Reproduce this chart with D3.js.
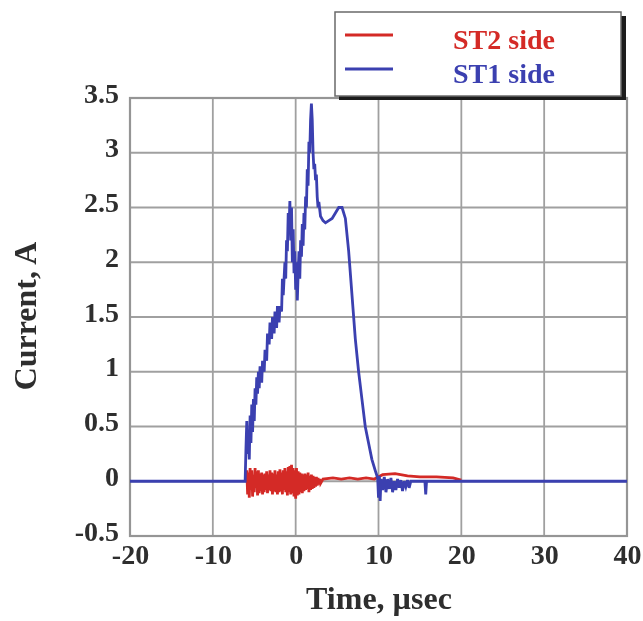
<html>
<head>
  <script src="https://d3js.org/d3.v7.min.js"></script>
  <style>
    body { margin: 0; background: white; }
    text { font-family: "Liberation Serif", "Times New Roman", serif; font-weight: bold; }
  </style>
</head>
<body>
  <svg id="chart" width="643" height="621"></svg>
  <script>
    // time ticks (usec) and current ticks (A)
    const xTicks = [-20, -10, 0, 10, 20, 30, 40];
    const yTicks = [-0.5, 0, 0.5, 1, 1.5, 2, 2.5, 3, 3.5];

    // ST1 side (blue) [time, current]
    const st1 = [
      [-20, 0], [-6.1, 0], [-6.0, 0.3], [-5.9, 0.55], [-5.8, 0.25], [-5.7, 0.45], [-5.6, 0.2],
      [-5.5, 0.6], [-5.4, 0.35], [-5.3, 0.7], [-5.2, 0.45], [-5.1, 0.75], [-5.0, 0.55],
      [-4.9, 0.85], [-4.8, 0.7], [-4.7, 0.95], [-4.6, 0.8], [-4.5, 1.0], [-4.4, 0.85],
      [-4.3, 1.05], [-4.1, 0.9], [-4.0, 1.1], [-3.8, 1.0], [-3.7, 1.2], [-3.5, 1.1],
      [-3.4, 1.35], [-3.2, 1.25], [-3.1, 1.45], [-2.9, 1.3], [-2.8, 1.5], [-2.6, 1.35],
      [-2.5, 1.55], [-2.3, 1.4], [-2.2, 1.6], [-2.0, 1.45], [-1.9, 1.6], [-1.7, 1.55],
      [-1.6, 1.85], [-1.5, 1.7], [-1.3, 2.0], [-1.2, 1.85], [-1.1, 2.2], [-1.0, 2.1],
      [-0.9, 2.45], [-0.8, 2.3], [-0.7, 2.56], [-0.6, 2.2], [-0.5, 2.5], [-0.4, 2.0],
      [-0.3, 2.3], [-0.2, 1.9], [-0.1, 2.1], [0.0, 1.75], [0.1, 2.0], [0.2, 1.65],
      [0.3, 1.9], [0.4, 2.1], [0.5, 1.85], [0.6, 2.2], [0.7, 2.05], [0.8, 2.35],
      [0.9, 2.15], [1.0, 2.45], [1.1, 2.3], [1.2, 2.6], [1.3, 2.5], [1.4, 2.85],
      [1.5, 2.7], [1.6, 3.1], [1.7, 3.0], [1.8, 3.3], [1.9, 3.45], [2.0, 3.3], [2.1, 3.0],
      [2.2, 2.85], [2.3, 2.9], [2.4, 2.75], [2.5, 2.8], [2.6, 2.6], [2.7, 2.5], [2.8, 2.55],
      [3.0, 2.42], [3.3, 2.38], [3.6, 2.36], [4.0, 2.38], [4.4, 2.4], [4.8, 2.45],
      [5.2, 2.5], [5.6, 2.5], [6.0, 2.4], [6.4, 2.1], [6.8, 1.7], [7.2, 1.3], [7.6, 1.0],
      [8.0, 0.75], [8.4, 0.5], [8.8, 0.35], [9.2, 0.2], [9.6, 0.1], [9.9, 0.03],
      [10.0, -0.15], [10.1, 0.05], [10.2, -0.18], [10.3, 0.02], [10.5, -0.08], [10.7, 0.04],
      [10.9, -0.1], [11.1, 0.02], [11.3, -0.07], [11.5, 0.03], [11.7, -0.1], [11.9, 0.0],
      [12.1, -0.08], [12.3, 0.02], [12.5, -0.06], [12.7, 0.01], [12.9, -0.09], [13.1, 0.0],
      [13.3, -0.05], [13.5, 0.01], [13.7, -0.06], [13.9, 0.0], [15.6, 0.0], [15.7, -0.12],
      [15.8, 0.0], [40, 0]
    ];

    // ST2 side (red) [time, current]
    const st2 = [
      [-6.0, 0], [-5.9, 0.1], [-5.8, -0.12], [-5.7, 0.08], [-5.6, -0.15], [-5.5, 0.12],
      [-5.4, -0.08], [-5.3, 0.1], [-5.2, -0.14], [-5.1, 0.06], [-5.0, -0.1], [-4.9, 0.12],
      [-4.8, -0.06], [-4.7, 0.09], [-4.6, -0.13], [-4.5, 0.1], [-4.4, -0.11], [-4.3, 0.07],
      [-4.2, -0.09], [-4.1, 0.08], [-4.0, -0.12], [-3.9, 0.06], [-3.8, -0.1], [-3.7, 0.07],
      [-3.6, -0.08], [-3.5, 0.09], [-3.4, -0.11], [-3.3, 0.06], [-3.2, -0.08], [-3.1, 0.1],
      [-3.0, -0.09], [-2.9, 0.08], [-2.8, -0.12], [-2.7, 0.07], [-2.6, -0.09], [-2.5, 0.1],
      [-2.4, -0.1], [-2.3, 0.06], [-2.2, -0.12], [-2.1, 0.09], [-2.0, -0.1], [-1.9, 0.11],
      [-1.8, -0.09], [-1.7, 0.08], [-1.6, -0.12], [-1.5, 0.1], [-1.4, -0.08], [-1.3, 0.12],
      [-1.2, -0.1], [-1.1, 0.09], [-1.0, -0.13], [-0.9, 0.13], [-0.8, -0.1], [-0.7, 0.14],
      [-0.6, -0.12], [-0.5, 0.15], [-0.4, -0.11], [-0.3, 0.12], [-0.2, -0.14], [-0.1, 0.1],
      [0.0, -0.16], [0.1, 0.12], [0.2, -0.13], [0.3, 0.09], [0.4, -0.12], [0.5, 0.08],
      [0.6, -0.1], [0.7, 0.07], [0.8, -0.11], [0.9, 0.06], [1.0, -0.09], [1.1, 0.07],
      [1.2, -0.08], [1.3, 0.06], [1.4, -0.07], [1.5, 0.08], [1.6, -0.1], [1.7, 0.05],
      [1.8, -0.08], [1.9, 0.06], [2.0, -0.07], [2.1, 0.05], [2.2, -0.06], [2.3, 0.04],
      [2.4, -0.05], [2.5, 0.04], [2.6, -0.04], [2.7, 0.03], [2.8, -0.03], [2.9, 0.02],
      [3.0, -0.02], [3.3, 0.02], [4.5, 0.03], [5.5, 0.02], [6.5, 0.03], [7.5, 0.02],
      [8.5, 0.03], [9.5, 0.02], [10.5, 0.06], [12, 0.07], [13.5, 0.05], [15, 0.04],
      [17, 0.04], [19, 0.03], [20, 0.01]
    ];

    const legendNames = ["ST2 side", "ST1 side"];
    const colors = ["#d42a26", "#3a3fb0"];

    const svg = d3.select("#chart");
    svg.append("defs").append("filter").attr("id", "soft")
      .attr("x", "-5%").attr("y", "-5%").attr("width", "110%").attr("height", "110%")
      .append("feGaussianBlur").attr("stdDeviation", 0.7);
    const root = svg.append("g").attr("filter", "url(#soft)");
    root.append("rect").attr("width", 643).attr("height", 621).attr("fill", "white");

    const margin = { top: 98, right: 16, bottom: 85, left: 130 };
    const width = 643 - margin.left - margin.right;
    const height = 621 - margin.top - margin.bottom;

    const x = d3.scaleLinear().domain([-20, 40]).range([margin.left, margin.left + width]);
    const y = d3.scaleLinear().domain([-0.5, 3.5]).range([margin.top + height, margin.top]);

    // grid
    root.append("g").selectAll("line").data(xTicks).join("line")
      .attr("x1", d => x(d)).attr("x2", d => x(d))
      .attr("y1", margin.top).attr("y2", margin.top + height)
      .style("stroke", "#a0a0a0").style("stroke-width", 1.8);
    root.append("g").selectAll("line").data(yTicks).join("line")
      .attr("x1", margin.left).attr("x2", margin.left + width)
      .attr("y1", d => y(d)).attr("y2", d => y(d))
      .style("stroke", "#a0a0a0").style("stroke-width", 1.8);

    root.append("rect")
      .attr("x", margin.left).attr("y", margin.top)
      .attr("width", width).attr("height", height)
      .attr("fill", "none").style("stroke", "#959595").style("stroke-width", 2.2);

    // axes
    const xAxis = root.append("g")
      .attr("transform", `translate(0,${margin.top + height})`)
      .call(d3.axisBottom(x).tickValues(xTicks).tickSize(0).tickPadding(8).tickFormat(d => String(d)));
    const yAxis = root.append("g")
      .attr("transform", `translate(${margin.left},0)`)
      .call(d3.axisLeft(y).tickValues(yTicks).tickSize(0).tickPadding(11).tickFormat(d => String(d)));
    [xAxis, yAxis].forEach(a => {
      a.select(".domain").remove();
      a.selectAll("text")
        .style("font-family", "'Liberation Serif', serif")
        .style("font-weight", "bold")
        .style("font-size", "28px")
        .attr("fill", "#2e2e2e");
    });
    yAxis.selectAll("text").attr("dy", "0.15em");

    // lines
    const line = d3.line().x(d => x(d[0])).y(d => y(d[1]));
    root.append("path").datum(st2).attr("d", line)
      .attr("fill", "none").style("stroke", colors[0]).style("stroke-width", 2.8);
    root.append("path").datum(st1).attr("d", line)
      .attr("fill", "none").style("stroke", colors[1]).style("stroke-width", 2.8);

    // axis titles
    root.append("text")
      .attr("transform", "translate(36,316) rotate(-90)")
      .attr("text-anchor", "middle")
      .style("font-size", "32px").attr("fill", "#2e2e2e")
      .text("Current, A");
    root.append("text")
      .attr("x", 379).attr("y", 609)
      .attr("text-anchor", "middle")
      .style("font-size", "32px").attr("fill", "#2e2e2e")
      .text("Time, µsec");

    // legend
    const lg = root.append("g");
    lg.append("rect").attr("x", 339).attr("y", 16).attr("width", 287).attr("height", 84)
      .attr("fill", "#1e1e1e");
    lg.append("rect").attr("x", 335).attr("y", 12).attr("width", 286).attr("height", 84)
      .attr("fill", "white").style("stroke", "#6a6a6a").style("stroke-width", 1.5);
    legendNames.forEach((name, i) => {
      const ly = 35 + i * 34;
      lg.append("line").attr("x1", 345).attr("x2", 393).attr("y1", ly).attr("y2", ly)
        .style("stroke", colors[i]).style("stroke-width", 2.8);
      lg.append("text").attr("x", 453).attr("y", ly + 14)
        .style("font-size", "28px").attr("fill", colors[i])
        .text(name);
    });
  </script>
</body>
</html>
